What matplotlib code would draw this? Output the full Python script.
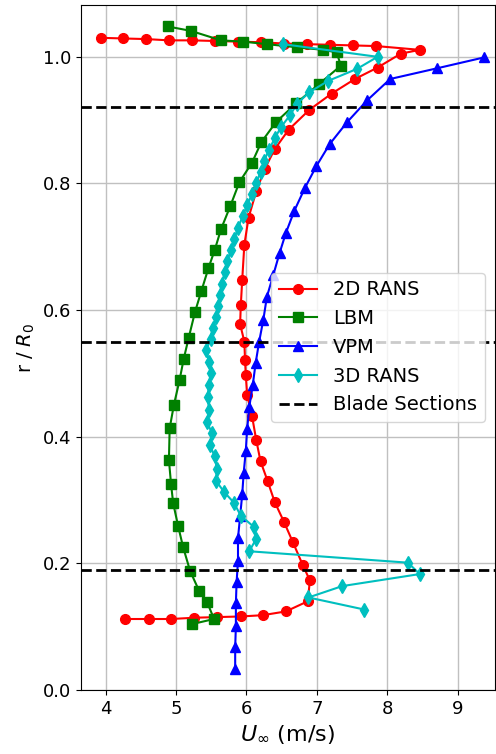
import matplotlib
matplotlib.use("Agg")
import matplotlib.pyplot as plt

# Axial velocity profiles along the normalised radius
rans2d_u = [3.93, 4.25, 4.58, 4.90, 5.23, 5.55, 5.88, 6.21, 6.53, 6.86, 7.19, 7.51, 7.84, 8.46,
            8.19, 7.86, 7.54, 7.21, 6.89, 6.60, 6.40, 6.26, 6.14, 6.03, 5.97, 5.94, 5.92, 5.91,
            5.97, 5.98, 5.99, 6.01, 6.08, 6.14, 6.20, 6.30, 6.40, 6.53, 6.66, 6.80, 6.90, 6.87,
            6.56, 6.23, 5.92, 5.58, 5.26, 4.93, 4.61, 4.28]
rans2d_r = [1.030, 1.029, 1.028, 1.026, 1.026, 1.025, 1.024, 1.023, 1.021, 1.020, 1.019, 1.018, 1.017, 1.011,
            1.005, 0.983, 0.965, 0.942, 0.916, 0.885, 0.854, 0.823, 0.788, 0.746, 0.703, 0.648, 0.608, 0.578,
            0.550, 0.521, 0.498, 0.466, 0.432, 0.394, 0.361, 0.330, 0.297, 0.266, 0.233, 0.197, 0.173, 0.140,
            0.124, 0.118, 0.116, 0.115, 0.114, 0.112, 0.112, 0.112]

lbm_u = [4.88, 5.21, 5.64, 5.95, 6.29, 6.72, 7.09, 7.28, 7.34, 7.03, 6.71, 6.42, 6.21, 6.08,
         5.90, 5.77, 5.64, 5.55, 5.46, 5.36, 5.27, 5.18, 5.11, 5.05, 4.97, 4.91, 4.90, 4.93,
         4.96, 5.03, 5.10, 5.20, 5.33, 5.44, 5.54, 5.23]
lbm_r = [1.048, 1.041, 1.026, 1.024, 1.020, 1.015, 1.011, 1.007, 0.986, 0.957, 0.927, 0.897, 0.865, 0.833,
         0.802, 0.764, 0.728, 0.695, 0.666, 0.630, 0.597, 0.556, 0.523, 0.489, 0.450, 0.413, 0.363, 0.325,
         0.295, 0.259, 0.226, 0.188, 0.156, 0.139, 0.112, 0.104]

vpm_u = [9.37, 8.71, 8.04, 7.71, 7.43, 7.18, 6.99, 6.83, 6.68, 6.56, 6.47, 6.38, 6.29, 6.24, 6.18,
         6.13, 6.09, 6.04, 6.01, 5.99, 5.96, 5.94, 5.91, 5.88, 5.88, 5.86, 5.85, 5.85, 5.84, 5.84]
vpm_r = [0.999, 0.982, 0.965, 0.931, 0.897, 0.862, 0.827, 0.793, 0.757, 0.722, 0.690, 0.655, 0.621, 0.585, 0.550,
         0.516, 0.482, 0.447, 0.412, 0.377, 0.342, 0.309, 0.274, 0.240, 0.204, 0.170, 0.137, 0.101, 0.067, 0.033]

rans3d_u = [6.52, 7.86, 7.57, 7.16, 6.89, 6.72, 6.62, 6.49, 6.40, 6.32, 6.25, 6.20, 6.14, 6.08,
            6.01, 5.95, 5.88, 5.83, 5.78, 5.73, 5.69, 5.65, 5.62, 5.60, 5.57, 5.52, 5.49, 5.43,
            5.47, 5.49, 5.47, 5.45, 5.47, 5.44, 5.51, 5.48, 5.55, 5.58, 5.57, 5.68, 5.82, 5.92,
            6.10, 6.14, 6.04, 8.29, 8.46, 7.36, 6.88, 7.67]
rans3d_r = [1.020, 1.000, 0.981, 0.962, 0.944, 0.926, 0.908, 0.889, 0.871, 0.853, 0.836, 0.818, 0.801, 0.783,
            0.766, 0.749, 0.730, 0.713, 0.695, 0.678, 0.660, 0.641, 0.624, 0.607, 0.589, 0.572, 0.554, 0.537,
            0.518, 0.501, 0.482, 0.463, 0.442, 0.423, 0.406, 0.387, 0.369, 0.349, 0.330, 0.313, 0.296, 0.275,
            0.258, 0.239, 0.219, 0.201, 0.183, 0.164, 0.146, 0.127]

blade_sections = [0.19, 0.55, 0.92]

x_ticks = [4, 5, 6, 7, 8, 9]
y_ticks = [0.0, 0.2, 0.4, 0.6, 0.8, 1.0]

fig = plt.figure(figsize=(4.96, 7.54), dpi=100)
ax = fig.add_axes([0.163, 0.085, 0.834, 0.9085])

ax.plot(rans2d_u, rans2d_r, 'r-o', lw=1.5, ms=7, label='2D RANS')
ax.plot(lbm_u, lbm_r, 'g-s', lw=1.5, ms=7, label='LBM')
ax.plot(vpm_u, vpm_r, 'b-^', lw=1.5, ms=7, label='VPM')
ax.plot(rans3d_u, rans3d_r, 'c-d', lw=1.5, ms=7, label='3D RANS')
for i, rb in enumerate(blade_sections):
    ax.axhline(rb, color='k', ls='--', lw=2, label='Blade Sections' if i == 0 else None)

ax.set_xlim(3.65, 9.52)
ax.set_ylim(0.0, 1.082)
ax.set_xticks(x_ticks)
ax.set_yticks(y_ticks)
ax.set_xticklabels([str(t) for t in x_ticks])
ax.set_yticklabels([f'{t:.1f}' for t in y_ticks])
ax.tick_params(labelsize=13)
ax.grid(True, color='#c0c0c0', lw=1)
ax.set_xlabel(r'$U_\infty$ (m/s)', fontsize=16)
ax.set_ylabel(r'r / $R_0$', fontsize=14)

ax.legend(loc='center right', fontsize=14)

fig.savefig('out.png', dpi=100)
